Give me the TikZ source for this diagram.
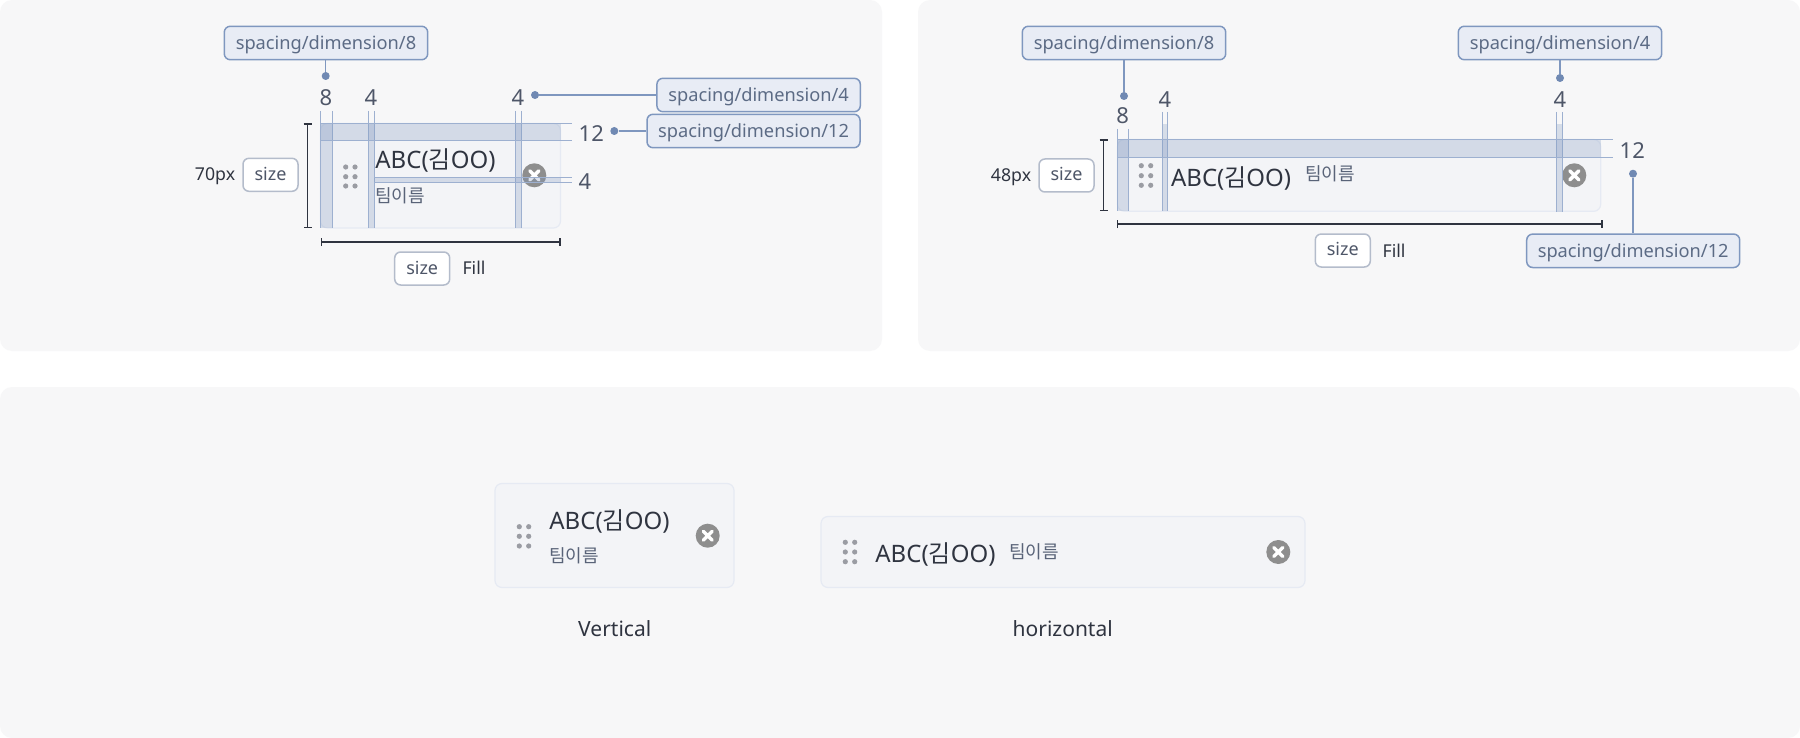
\documentclass[tikz,border=0pt]{standalone}
\usepackage{fontspec}
\setmainfont{Noto Sans}
\newfontfamily\kr{Noto Sans CJK KR}
\usetikzlibrary{arrows.meta}
\definecolor{panelbg}{HTML}{F7F7F8}
\definecolor{cardbg}{HTML}{F3F4F7}
\definecolor{cardedge}{HTML}{E6EAF3}
\definecolor{tagbg}{HTML}{E8ECF5}
\definecolor{tagedge}{HTML}{7F97BF}
\definecolor{specline}{HTML}{9DB0D0}
\definecolor{bandfill}{HTML}{7F97BF}
\definecolor{dotblue}{HTML}{7089B3}
\definecolor{tagtext}{HTML}{5C6B85}
\definecolor{numtext}{HTML}{4E5668}
\definecolor{darktext}{HTML}{2F3440}
\definecolor{subtext}{HTML}{596378}
\definecolor{sizeedge}{HTML}{B4BCCB}
\definecolor{iconfill}{HTML}{8E8E8E}
\definecolor{dragdot}{HTML}{9A9CA3}
\newcommand{\fs}[1]{\fontsize{#1}{#1}\selectfont}
\tikzset{
  x=.5pt,y=-.5pt,
  panel/.style={fill=panelbg,draw=none,rounded corners=6pt},
  card/.style={fill=cardbg,draw=cardedge,line width=.6pt,rounded corners=3.5pt},
  spectag/.style={draw=tagedge,fill=tagbg,line width=.75pt,rounded corners=3pt,inner sep=0pt,
     text=tagtext,font=\fs{9.12},text height=8.7pt,text depth=2pt,minimum height=16.7pt},
  sizetag/.style={draw=sizeedge,fill=white,line width=.75pt,rounded corners=3pt,inner sep=0pt,
     text=numtext,font=\fs{9},minimum width=27.5pt,minimum height=16.5pt,text height=7.3pt,text depth=1.8pt},
  specdot/.style={circle,fill=dotblue,inner sep=0pt,minimum size=4pt},
  leader/.style={draw=tagedge,line width=.75pt},
  num/.style={text=numtext,font=\fs{11},inner sep=0pt,anchor=base},
  plain/.style={text=darktext,font=\fs{8.85},inner sep=0pt},
  title/.style={text=darktext,font=\fs{12},inner sep=0pt,anchor=base west},
  sub/.style={text=subtext,font=\kr\fs{9},inner sep=0pt,anchor=base west},
  caption/.style={text=darktext,font=\fs{10.5},inner sep=0pt,anchor=base},
  closebtn/.style={circle,fill=iconfill,inner sep=0pt,minimum size=12pt},
  dimline/.style={draw=darktext,line width=.75pt,{Bar[width=4pt,length=0pt]}-{Bar[width=4pt,length=0pt]}},
  band/.style={fill=bandfill,fill opacity=.27},
  bandedge/.style={draw=specline,line width=.5pt},
}
\newcommand{\vband}[5]{% x1 x2 ytop yfill ybot
  \fill[band] (#1,#4) rectangle (#2,#5);
  \draw[bandedge] (#1,#3) -- (#1,#5) (#2,#3) -- (#2,#5);}
\newcommand{\hband}[5]{% y1 y2 x1 xfill xend
  \fill[band] (#3,#1) rectangle (#4,#2);
  \draw[bandedge] (#3,#1) -- (#5,#1) (#3,#2) -- (#5,#2);}
\newcommand{\closeicon}[3]{%
  \node[closebtn] (#1) at (#2,#3) {};
  \draw[white,line width=1.7pt,line cap=round]
    ([shift={(-4.5,-4.5)}]#1.center) -- ([shift={(4.5,4.5)}]#1.center)
    ([shift={(-4.5,4.5)}]#1.center) -- ([shift={(4.5,-4.5)}]#1.center);}
\newcommand{\dragdots}[5]{% x1 x2 y1 y2 y3
  \foreach \dx in {#1,#2}\foreach \dy in {#3,#4,#5}
    \fill[dragdot] (\dx,\dy) circle [radius=2.6];}
\newcommand{\abc}{ABC({\kr 김}OO)}
\begin{document}
\begin{tikzpicture}
\useasboundingbox (0,0) rectangle (1800,738);
\fill[white] (0,0) rectangle (1800,738);
\path[panel] (0,0) rectangle (882,351);
\path[panel] (918,0) rectangle (1800,351);
\path[panel] (0,387) rectangle (1800,738);

% --- panel 1
\path[card] (320.5,123.5) rectangle (560.5,228);
\dragdots{345.7}{355}{167}{176.7}{186}
\node[title] (t1) at (375,169) {\abc};
\node[sub] (s1) at (375,202) {팀이름};
\closeicon{c1}{534.3}{175.3}
\vband{320.5}{332.3}{111}{123.5}{228}
\vband{368.3}{374.3}{111}{123.5}{228}
\vband{515.3}{521.7}{111}{123.5}{228}
\hband{123.3}{140.3}{320.5}{561}{572}
\hband{177.3}{182.3}{374.3}{561}{572}
\node[num] (n1a) at (326,106) {8};
\node[num] (n1b) at (371,106) {4};
\node[num] (n1c) at (518,106) {4};
\node[num] (n1d) at (591.3,141.5) {12};
\node[num] (n1e) at (585,189.5) {4};
\node[spectag,minimum width=101.7pt] (g1a) at (326,43) {spacing/dimension/8};
\node[spectag,minimum width=101.7pt] (g1b) at (758.6,95) {spacing/dimension/4};
\node[spectag,minimum width=106.5pt] (g1c) at (753.5,131) {spacing/dimension/12};
\node[specdot] (d1a) at (325.7,76) {};
\node[specdot] (d1b) at (535,95) {};
\node[specdot] (d1c) at (614.3,131) {};
\draw[leader] (d1a) -- (d1a |- g1a.south);
\draw[leader] (d1b) -- (g1b.west);
\draw[leader] (d1c) -- (g1c.west);
\coordinate (v1a) at (307.7,123.5);
\coordinate (v1b) at (307.7,228);
\draw[dimline] (v1a) -- (v1b);
\coordinate (h1a) at (320.5,242);
\coordinate (h1b) at (560.7,242);
\draw[dimline] (h1a) -- (h1b);
\node[sizetag] (z1a) at (270.5,174.8) {size};
\node[plain,anchor=base east] (p1a) at (235.5,181) {70px};
\node[sizetag] (z1b) at (422.2,268.5) {size};
\node[plain,anchor=base] (f1) at (474,274.5) {Fill};

% --- panel 2
\path[card] (1117.5,139.5) rectangle (1600.7,211.3);
\dragdots{1141.3}{1150.7}{165.7}{175.7}{185.3}
\node[title] (t2) at (1170.7,186) {\abc};
\node[sub] (s2) at (1305,181) {팀이름};
\closeicon{c2}{1574.3}{175.3}
\vband{1117.5}{1128.3}{129}{139.5}{211.3}
\vband{1162.3}{1167.7}{112}{124}{211.3}
\vband{1556.3}{1562.7}{112}{124}{212}
\hband{139.3}{157.3}{1117.5}{1601}{1613}
\node[num] (n2a) at (1122.7,124) {8};
\node[num] (n2b) at (1165,107.3) {4};
\node[num] (n2c) at (1560,107.3) {4};
\node[num] (n2d) at (1632.3,158.5) {12};
\node[spectag,minimum width=101.7pt] (g2a) at (1124,43) {spacing/dimension/8};
\node[spectag,minimum width=101.7pt] (g2b) at (1560,43) {spacing/dimension/4};
\node[spectag,minimum width=106.5pt] (g2c) at (1633.2,250.8) {spacing/dimension/12};
\node[specdot] (d2a) at (1124,96) {};
\node[specdot] (d2b) at (1560,78) {};
\node[specdot] (d2c) at (1633,173.7) {};
\draw[leader] (d2a) -- (d2a |- g2a.south);
\draw[leader] (d2b) -- (d2b |- g2b.south);
\draw[leader] (d2c) -- (d2c |- g2c.north);
\coordinate (v2a) at (1103.7,139.5);
\coordinate (v2b) at (1103.7,211.3);
\draw[dimline] (v2a) -- (v2b);
\coordinate (h2a) at (1116.5,224);
\coordinate (h2b) at (1602.7,224);
\draw[dimline] (h2a) -- (h2b);
\node[sizetag] (z2a) at (1066.5,175.5) {size};
\node[plain,anchor=base east] (p2a) at (1031.5,182) {48px};
\node[sizetag] (z2b) at (1342.8,250.5) {size};
\node[plain,anchor=base] (f2) at (1394,257) {Fill};

% --- panel 3
\path[card] (495,483.5) rectangle (734,587.5);
\dragdots{519.3}{528.7}{526.7}{536.3}{546}
\node[title] (t3) at (549,529) {\abc};
\node[sub] (s3) at (549,562.5) {팀이름};
\closeicon{c3}{707.7}{535.7}
\node[caption] (k3) at (614.7,636.5) {Vertical};
\path[card] (821,516.5) rectangle (1305,587.5);
\dragdots{845.3}{854.7}{542.3}{552}{561.7}
\node[title] (t4) at (875,562) {\abc};
\node[sub] (s4) at (1009,558) {팀이름};
\closeicon{c4}{1278.3}{552}
\node[caption] (k4) at (1062.7,636.5) {horizontal};
\end{tikzpicture}
\end{document}
